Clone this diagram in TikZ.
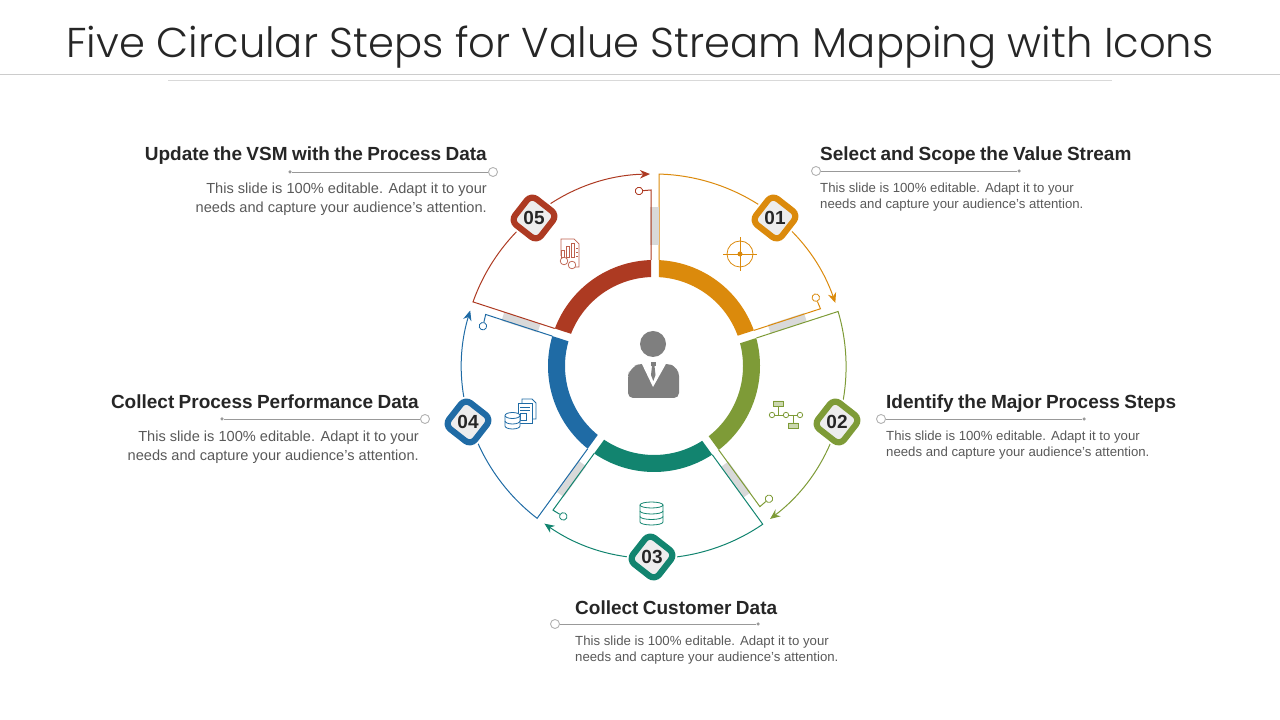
\documentclass[tikz,border=0pt]{standalone}
\usepackage{fontspec}
\setmainfont{Liberation Sans}
\newfontfamily\titlefont{Poppins Light}
\newfontfamily\headfont[WordSpace=0.83]{Liberation Sans}
\usetikzlibrary{arrows.meta,calc,positioning}

\definecolor{stepone}{HTML}{DB8A0C}
\definecolor{steptwo}{HTML}{7E9B37}
\definecolor{stepthree}{HTML}{12846F}
\definecolor{stepfour}{HTML}{1F6BA5}
\definecolor{stepfive}{HTML}{AD3A22}
\definecolor{gapgray}{HTML}{D9D9D9}
\definecolor{personfill}{HTML}{7F7F7F}

% one slice of the wheel, drawn upright and then turned
\newcommand{\wheelslice}[3]{
  \begin{scope}[shift={(hub)},rotate=#3]
    \fill[#2] (87.3:106) arc[start angle=87.3,end angle=19.6,radius=106]
      -- (19.9:89) arc[start angle=19.9,end angle=86.8,radius=89] -- cycle;
    \fill[gapgray,rotate=-72] (-4,121) rectangle (5,159);
    \coordinate (foot#1) at (5,106);
    \coordinate (rim#1) at (88.5:192);
    \draw[#2,line width=1pt,-{Stealth[length=10pt,width=8.5pt]}] (foot#1) -- (rim#1)
      arc[start angle=88.5,end angle=19.2,radius=192];
    \node[tickring=#2,rotate=-72] (tick#1) at ($(0,0)!1!-72:(-15,175)$) {};
    \coordinate (base#1) at ($(0,0)!1!-72:(-3,106)$);
    \coordinate (bend#1) at ($(0,0)!1!-72:(-3,176)$);
    \draw[#2,line width=1pt] (base#1) -- (bend#1) -- (tick#1);
  \end{scope}
}

\begin{document}
\begin{tikzpicture}[
    x=1pt,y=1pt,
    tickring/.style={circle, draw=#1, fill=white, line width=.8pt, inner sep=0pt, minimum size=7.5pt},
    badge/.style={rectangle, rounded corners=7pt, draw=#1, fill=black!7, line width=6.2pt, inner sep=0pt,
      minimum size=33pt, rotate=-38, preaction={draw=white, line width=10pt}},
    badgenum/.style={font=\bfseries\fontsize{19}{19}\selectfont, text=black!85, inner sep=0pt},
    ringdot/.style={circle, draw=black!30, fill=white, line width=.9pt, inner sep=0pt, minimum size=9pt},
    ruleend/.style={circle, fill=black!40, inner sep=0pt, minimum size=3.5pt},
    leader/.style={draw=black!40, line width=.8pt},
    heading/.style={font=\headfont\bfseries\fontsize{19}{23}\selectfont, text=black!85, inner sep=0pt},
    blurbleft/.style={font=\fontsize{13.2}{16}\selectfont, text=black!65, inner sep=0pt, align=left},
    blurbright/.style={font=\fontsize{14.6}{19}\selectfont, text=black!65, inner sep=0pt, align=right}
  ]
  \useasboundingbox (0,0) rectangle (1280,720);

  \node (title) at (640,673) [font=\titlefont\fontsize{41.7}{48}\selectfont, text=black!85, inner sep=0pt]
    {Five Circular Steps for Value Stream Mapping with Icons};
  \coordinate (topa) at (0,646);
  \coordinate (topb) at (1280,646);
  \draw[black!20, line width=.8pt] (topa) -- (topb);
  \coordinate (subat) at (168,640);
  \coordinate (subbt) at (1112,640);
  \draw[black!15, line width=.8pt] (subat) -- (subbt);

  \coordinate (hub) at (654,354);
  \wheelslice{one}{stepone}{0}
  \wheelslice{two}{steptwo}{-72}
  \wheelslice{three}{stepthree}{-144}
  \wheelslice{four}{stepfour}{-216}
  \wheelslice{five}{stepfive}{-288}

  % number badges
  \node (badge1) [badge=stepone] at (775,502) {};
  \node [badgenum] at (badge1) {01};
  \node (badge2) [badge=steptwo] at (837,298) {};
  \node [badgenum] at (badge2) {02};
  \node (badge3) [badge=stepthree] at (652,163) {};
  \node [badgenum] at (badge3) {03};
  \node (badge4) [badge=stepfour] at (468,298) {};
  \node [badgenum] at (badge4) {04};
  \node (badge5) [badge=stepfive] at (534,502) {};
  \node [badgenum] at (badge5) {05};

  % texts
  \node (dot1) [ringdot] at (816,549) {};
  \node (end1) [ruleend] at (1019,549) {};
  \draw[leader] (dot1) -- (end1);
  \node (head1) [heading, anchor=base west] at (820,559) {Select and Scope the Value Stream};
  \node (text1) [blurbleft, anchor=north west] at (820,537) {This slide is 100\% editable. Adapt it to your\\needs and capture your audience's attention.};

  \node (dot2) [ringdot] at (881,301) {};
  \node (end2) [ruleend] at (1084,301) {};
  \draw[leader] (dot2) -- (end2);
  \node (head2) [heading, anchor=base west] at (886,311) {Identify the Major Process Steps};
  \node (text2) [blurbleft, anchor=north west] at (886,289) {This slide is 100\% editable. Adapt it to your\\needs and capture your audience's attention.};

  \node (dot3) [ringdot] at (555,96) {};
  \node (end3) [ruleend] at (758,96) {};
  \draw[leader] (dot3) -- (end3);
  \node (head3) [heading, anchor=base west] at (575,105) {Collect Customer Data};
  \node (text3) [blurbleft, anchor=north west] at (575,84) {This slide is 100\% editable. Adapt it to your\\needs and capture your audience's attention.};

  \node (dot4) [ringdot] at (425,301) {};
  \node (end4) [ruleend] at (222,301) {};
  \draw[leader] (dot4) -- (end4);
  \node (head4) [heading, anchor=base east] at (419,311) {Collect Process Performance Data};
  \node (text4) [blurbright, anchor=north east] at (419,289) {This slide is 100\% editable. Adapt it to your\\needs and capture your audience's attention.};

  \node (dot5) [ringdot] at (493,548) {};
  \node (end5) [ruleend] at (290,548) {};
  \draw[leader] (dot5) -- (end5);
  \node (head5) [heading, anchor=base east] at (487,559) {Update the VSM with the Process Data};
  \node (text5) [blurbright, anchor=north east] at (487,537) {This slide is 100\% editable. Adapt it to your\\needs and capture your audience's attention.};

  % person
  \fill[personfill] (653,376) circle (13);
  \fill[personfill, rounded corners=5pt] (628,322) -- (628,344) [rounded corners=9pt] -- (630,353) -- (643,357) -- (664,357) -- (679,353)
    [rounded corners=5pt] -- (679,322) -- cycle;
  \fill[white] (641,358) -- (653,333) -- (667,358) -- cycle;
  \fill[personfill] (650.5,358) rectangle (656,354);
  \fill[personfill] (652,354) -- (651,345) -- (653.3,339) -- (655.5,345) -- (654.5,354) -- cycle;

  % target icon
  \draw[stepone, line width=.8pt] (740,466) circle (13);
  \fill[stepone] (740,466) circle (2.5);
  \draw[stepone, line width=.8pt] (723,466) -- (757,466) (740,449) -- (740,483);

  % flow icon
  \draw[steptwo, line width=.8pt] (772,305) -- (800,305) (778,315) -- (778,305) (793,305) -- (793,297);
  \draw[steptwo, fill=white, line width=.8pt] (772,305) circle (2.7) (786,305) circle (2.7) (800,305) circle (2.7);
  \draw[steptwo, fill=steptwo!40, line width=.8pt] (773,314) rectangle (783,319) (788,292) rectangle (798,297);

  % database icon
  \draw[stepthree, line width=.8pt] (640,215) -- (640,198) arc[start angle=180,end angle=360,x radius=11.5,y radius=3] -- (663,215);
  \draw[stepthree, line width=.8pt] (651.5,215) ellipse (11.5 and 3);
  \draw[stepthree, line width=.8pt] (640,209) arc[start angle=180,end angle=360,x radius=11.5,y radius=3];
  \draw[stepthree, line width=.8pt] (640,203.5) arc[start angle=180,end angle=360,x radius=11.5,y radius=3];

  % documents and database icon
  \draw[stepfour, line width=.8pt] (522,321) -- (522,301) -- (536,301) -- (536,317) -- (532,321) -- cycle;
  \draw[stepfour, fill=white, line width=.8pt] (518,317) rectangle (532,297);
  \draw[stepfour, line width=.8pt] (520,313) -- (530,313) (520,310) -- (530,310);
  \draw[stepfour, line width=.8pt] (520,307) rectangle (526,300);
  \draw[stepfour, fill=white, line width=.8pt] (505,304) -- (505,294) arc[start angle=180,end angle=360,x radius=7.5,y radius=3] -- (520,304);
  \draw[stepfour, fill=white, line width=.8pt] (512.5,304.5) ellipse (7.5 and 3);
  \draw[stepfour, line width=.8pt] (505,299) arc[start angle=180,end angle=360,x radius=7.5,y radius=3];

  % report icon
  \draw[stepfive!80, line width=.7pt] (561,464) -- (561,481) -- (574,481) -- (579,476) -- (579,453) -- (569,453);
  \draw[stepfive!80, line width=.7pt] (561,463) rectangle (564,470) (566,463) rectangle (569,474) (571,463) rectangle (574,477);
  \draw[stepfive!80, line width=.7pt] (576,472) -- (578,472) (576,468) -- (578,468) (576,464) -- (578,464);
  \draw[stepfive!80, fill=white, line width=.7pt] (564,459) circle (3.8) (572,455) circle (3.8);
\end{tikzpicture}
\end{document}
